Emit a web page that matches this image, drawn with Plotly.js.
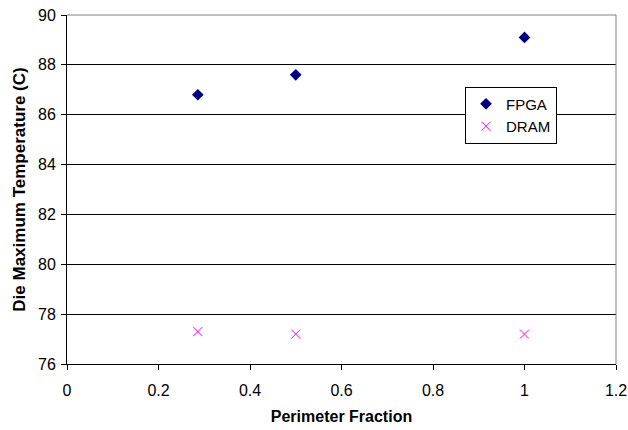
<!DOCTYPE html>
<html>
<head>
<meta charset="utf-8">
<script src="https://cdn.plot.ly/plotly-3.0.1.min.js"></script>
<style>html,body{margin:0;padding:0;background:#fff;}#chart{width:628px;height:430px;}</style>
</head>
<body>
<div id="chart"></div>
<script>
const fpgaX = [0.286, 0.5, 1];
const fpgaY = [86.8, 87.6, 89.1];
const dramX = [0.286, 0.5, 1];
const dramY = [77.3, 77.2, 77.2];
const xTicks = [0, 0.2, 0.4, 0.6, 0.8, 1, 1.2];
const yTicks = [76, 78, 80, 82, 84, 86, 88, 90];

const traces = [
  {x: fpgaX, y: fpgaY, name: 'FPGA', type: 'scatter', mode: 'markers',
   marker: {symbol: 'diamond', color: '#000080', size: 9}},
  {x: dramX, y: dramY, name: 'DRAM', type: 'scatter', mode: 'markers',
   marker: {symbol: 'x-thin-open', color: '#FF00FF', size: 9, line: {color: '#FF00FF', width: 1}}}
];

const layout = {
  width: 628, height: 430,
  margin: {l: 67, r: 12, t: 15, b: 66},
  paper_bgcolor: '#fff', plot_bgcolor: '#fff',
  font: {family: 'Liberation Sans, Arial, sans-serif', color: '#000', size: 16},
  showlegend: true,
  legend: {x: 0.725, y: 0.795, xanchor: 'left', yanchor: 'top', bgcolor: '#fff',
    bordercolor: '#000', borderwidth: 1, font: {size: 15}, tracegroupgap: 0, itemwidth: 30},
  xaxis: {range: [0, 1.2], tickvals: xTicks, ticktext: xTicks.map(String),
    showgrid: false, zeroline: false, showline: true, linecolor: '#000', linewidth: 1,
    ticks: 'outside', ticklen: 5, tickcolor: '#000', tickfont: {size: 16}, ticklabelstandoff: 7,
    title: {text: '<b>Perimeter Fraction</b>', font: {size: 16}, standoff: 12}},
  yaxis: {range: [76, 90], tickvals: yTicks, ticktext: yTicks.map(String),
    showgrid: true, gridcolor: '#000', gridwidth: 1, zeroline: false,
    showline: true, linecolor: '#000', linewidth: 1,
    ticks: 'outside', ticklen: 5, tickcolor: '#000', tickfont: {size: 16}, ticklabelstandoff: 2,
    title: {text: '<b>Die Maximum Temperature (C)</b>', font: {size: 17}, standoff: 8}},
  shapes: [
    {type: 'line', xref: 'paper', yref: 'paper', x0: 0, x1: 1, y0: 1, y1: 1, line: {color: '#808080', width: 1}, layer: 'above'},
    {type: 'line', xref: 'paper', yref: 'paper', x0: 1, x1: 1, y0: 0, y1: 1, line: {color: '#808080', width: 1}, layer: 'above'}
  ]
};

Plotly.newPlot('chart', traces, layout, {displayModeBar: false, staticPlot: true});
</script>
</body>
</html>
